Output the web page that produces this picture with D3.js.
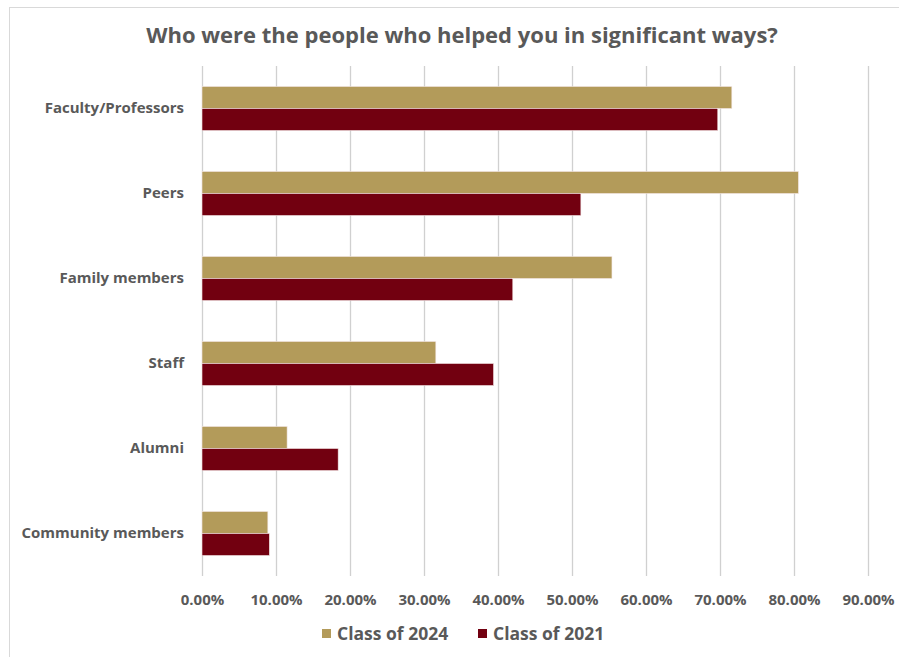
<!DOCTYPE html>
<html><head><meta charset="utf-8">
<script src="https://cdn.jsdelivr.net/npm/d3@7"></script>
<style>
html,body{margin:0;padding:0;background:#fff;}
svg{display:block;}
text{font-family:"Open Sans",Lato,sans-serif;font-weight:bold;fill:#595959;}
</style></head>
<body>
<svg id="c" width="899" height="657"></svg>
<script>
const categories = ["Faculty/Professors","Peers","Family members","Staff","Alumni","Community members"];
const seriesNames = ["Class of 2024","Class of 2021"];
const class2024 = [71.6, 80.6, 55.4, 31.6, 11.5, 8.9];
const class2021 = [69.7, 51.2, 42.0, 39.4, 18.4, 9.1];
const tickValues = [0,10,20,30,40,50,60,70,80,90];
const colors = ["#B39B5A","#720010"];

const svg = d3.select("#c");
svg.append("rect").attr("x",9.5).attr("y",7.5).attr("width",1000).attr("height",1000)
  .attr("fill","none").attr("stroke","#d9d9d9");

const x = d3.scaleLinear().domain([0,90]).range([202,868]);
const y = d3.scaleBand().domain(categories).range([66,576]).paddingInner(0.482).paddingOuter(0.241);
const ys = d3.scaleBand().domain(seriesNames).range([0,y.bandwidth()]);

// gridlines
const gx = d3.axisBottom(x).tickValues(tickValues).tickSize(-(576-66)).tickFormat("");
svg.append("g").attr("transform","translate(0,576)").call(gx)
  .call(g=>g.select(".domain").remove())
  .call(g=>g.selectAll("line").attr("stroke","#d0d0d0").attr("stroke-width",1.3));

// tick labels
const ax = d3.axisBottom(x).tickValues(tickValues).tickSize(0).tickPadding(18)
  .tickFormat(d=>d.toFixed(2)+"%");
svg.append("g").attr("transform","translate(0,576)").call(ax)
  .call(g=>g.select(".domain").remove())
  .call(g=>g.selectAll("text").attr("font-size",15).attr("fill","#595959")
     .style("font-family",'"Open Sans",Lato,sans-serif').style("font-weight","bold"));

// category labels
const ay = d3.axisLeft(y).tickSize(0).tickPadding(18);
svg.append("g").attr("transform","translate(202,0)").call(ay)
  .call(g=>g.select(".domain").remove())
  .call(g=>g.selectAll("text").attr("font-size",15).attr("fill","#595959")
     .style("font-family",'"Open Sans",Lato,sans-serif').style("font-weight","bold"));

const series = [class2024, class2021];
series.forEach((vals,si)=>{
  svg.append("g").selectAll("rect").data(categories).join("rect")
    .attr("x",x(0))
    .attr("y",(c)=>y(c)+ys(seriesNames[si]))
    .attr("width",(c,i)=>x(vals[i])-x(0))
    .attr("height",ys.bandwidth())
    .attr("fill",colors[si])
    .attr("stroke","#f3e6e6").attr("stroke-width",0.6);
});

// title
svg.append("text").attr("x",462).attr("y",43).attr("text-anchor","middle")
  .attr("font-size",22).text("Who were the people who helped you in significant ways?");

// legend
const leg = svg.append("g").attr("transform","translate(322,634)");
const legX = [0, 156];
seriesNames.forEach((n,i)=>{
  const g = leg.append("g").attr("transform",`translate(${legX[i]},0)`);
  g.append("rect").attr("x",0).attr("y",-5).attr("width",9).attr("height",9).attr("fill",colors[i]);
  g.append("text").attr("x",15).attr("y",6).attr("font-size",17.5).text(n);
});
</script>
</body></html>
